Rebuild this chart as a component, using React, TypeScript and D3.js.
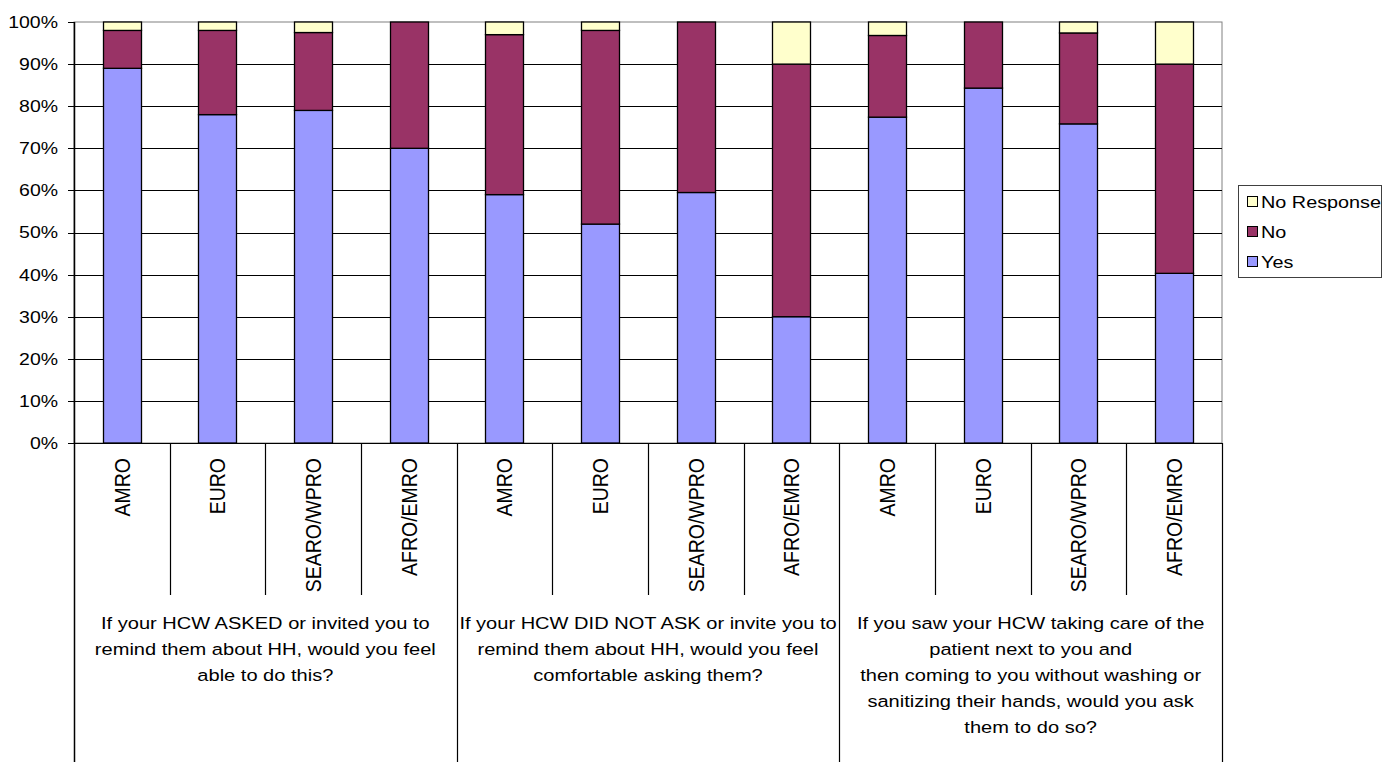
import * as d3 from "d3";
import { useEffect, useRef } from "react";

const regions = ["AMRO", "EURO", "SEARO/WPRO", "AFRO/EMRO"];
const questions = [
  ["If your HCW ASKED or invited you to", "remind them about HH, would you feel", "able to do this?"],
  ["If your HCW DID NOT ASK or invite you to", "remind them about HH, would you feel", "comfortable asking them?"],
  [
    "If you saw your HCW taking care of the",
    "patient next to you and",
    "then coming to you without washing or",
    "sanitizing their hands, would you ask",
    "them to do so?",
  ],
];
const yesValues = [89, 78, 79, 70, 59, 52, 59.5, 30, 77.4, 84.3, 75.8, 40.3];
const noValues = [9, 20, 18.5, 30, 38, 46, 40.5, 60, 19.4, 15.7, 21.6, 49.7];
const noResponseValues = [2, 2, 2.5, 0, 3, 2, 0, 10, 3.2, 0, 2.6, 10];
const seriesKeys = ["Yes", "No", "No Response"];
const seriesColors: Record<string, string> = { Yes: "#9999FF", No: "#993366", "No Response": "#FFFFCC" };
const yTicks = [0, 10, 20, 30, 40, 50, 60, 70, 80, 90, 100];

const FONT = "'Liberation Sans', Arial, sans-serif";
const SX = 1.18; // the source picture is stretched horizontally

export default function App() {
  const svgRef = useRef<SVGSVGElement>(null);

  useEffect(() => {
    if (!svgRef.current) return;
    const svg = d3.select(svgRef.current);
    svg.selectAll("*").remove();

    const left = 74;
    const right = 1222;
    const top = 22;
    const bottom = 443;
    const catLineBottom = 595;
    const fullBottom = 762;

    const rows = yesValues.map((y, i) => ({
      idx: i,
      Yes: y,
      No: noValues[i],
      "No Response": noResponseValues[i],
    }));

    const x = d3
      .scaleBand<number>()
      .domain(rows.map((d) => d.idx))
      .range([left, right])
      .paddingInner(0.6)
      .paddingOuter(0.3);
    const step = x.step();

    const y = d3.scaleLinear().domain([0, 100]).range([bottom, top]);

    // plot border (grey) and gridlines (black)
    svg
      .append("rect")
      .attr("x", left)
      .attr("y", top)
      .attr("width", right - left)
      .attr("height", bottom - top)
      .attr("fill", "white")
      .attr("stroke", "#808080")
      .attr("stroke-width", 1);

    svg
      .selectAll(".grid")
      .data(yTicks.filter((t) => t > 0 && t < 100))
      .enter()
      .append("line")
      .attr("x1", left)
      .attr("x2", right)
      .attr("y1", (d) => Math.round(y(d)) + 0.5)
      .attr("y2", (d) => Math.round(y(d)) + 0.5)
      .attr("stroke", "#000")
      .attr("stroke-width", 1);

    // ticks and labels
    svg
      .selectAll(".tick")
      .data(yTicks)
      .enter()
      .append("line")
      .attr("x1", left - 6)
      .attr("x2", left)
      .attr("y1", (d) => Math.round(y(d)) + 0.5)
      .attr("y2", (d) => Math.round(y(d)) + 0.5)
      .attr("stroke", "#000");

    svg
      .selectAll(".ytext")
      .data(yTicks)
      .enter()
      .append("text")
      .attr("transform", (d) => `translate(58,${y(d)}) scale(${SX},1)`)
      .attr("dy", "0.36em")
      .attr("text-anchor", "end")
      .style("font-family", FONT)
      .style("font-size", "16.5px")
      .style("fill", "#000")
      .text((d) => `${d}%`);

    // stacked bars
    const stacked = d3.stack<any>().keys(seriesKeys)(rows);
    stacked.forEach((layer) => {
      svg
        .append("g")
        .selectAll("rect")
        .data(layer.filter((d) => d[1] - d[0] > 0))
        .enter()
        .append("rect")
        .attr("x", (d) => Math.round(x(d.data.idx)!) + 0.5)
        .attr("y", (d) => y(d[1]))
        .attr("width", Math.round(x.bandwidth()))
        .attr("height", (d) => y(d[0]) - y(d[1]))
        .attr("fill", seriesColors[layer.key])
        .attr("stroke", "#000")
        .attr("stroke-width", 1.3);
    });

    // left axis line (down to the bottom of the category area)
    svg
      .append("line")
      .attr("x1", left + 0.5)
      .attr("x2", left + 0.5)
      .attr("y1", top)
      .attr("y2", fullBottom)
      .attr("stroke", "#000")
      .attr("stroke-width", 1.5);

    // category dividers
    const dividers = d3.range(1, rows.length + 1).map((i) => ({
      xPos: left + i * step,
      isGroup: i % regions.length === 0,
    }));
    svg
      .selectAll(".divider")
      .data(dividers)
      .enter()
      .append("line")
      .attr("x1", (d) => Math.round(d.xPos) + 0.5)
      .attr("x2", (d) => Math.round(d.xPos) + 0.5)
      .attr("y1", bottom)
      .attr("y2", (d) => (d.isGroup ? fullBottom : catLineBottom))
      .attr("stroke", "#000")
      .attr("stroke-width", 1.2);

    // x axis line
    svg
      .append("line")
      .attr("x1", left)
      .attr("x2", right)
      .attr("y1", bottom + 0.5)
      .attr("y2", bottom + 0.5)
      .attr("stroke", "#000")
      .attr("stroke-width", 1.2);

    // rotated region labels
    svg
      .selectAll(".cat")
      .data(rows)
      .enter()
      .append("text")
      .attr(
        "transform",
        (d) => `translate(${x(d.idx)! + x.bandwidth() / 2},458) scale(1.1,1) rotate(-90)`
      )
      .attr("dy", "0.36em")
      .attr("text-anchor", "end")
      .style("font-family", FONT)
      .style("font-size", "19.5px")
      .style("fill", "#000")
      .text((d) => regions[d.idx % regions.length]);

    // question labels
    questions.forEach((lines, gi) => {
      const cx = left + (gi + 0.5) * step * regions.length;
      const g = svg.append("g");
      lines.forEach((line, li) => {
        g.append("text")
          .attr("transform", `translate(${cx},${623 + li * 26}) scale(${SX},1)`)
          .attr("dy", "0.36em")
          .attr("text-anchor", "middle")
          .style("font-family", FONT)
          .style("font-size", "17px")
          .style("fill", "#000")
          .text(line);
      });
    });

    // legend
    const legend = svg.append("g");
    legend
      .append("rect")
      .attr("x", 1238.5)
      .attr("y", 185.5)
      .attr("width", 143)
      .attr("height", 92)
      .attr("fill", "white")
      .attr("stroke", "#404040")
      .attr("stroke-width", 1);
    const legendOrder = [...seriesKeys].reverse();
    legendOrder.forEach((k, i) => {
      const cy = 202 + i * 30;
      legend
        .append("rect")
        .attr("x", 1247.5)
        .attr("y", cy - 5.5)
        .attr("width", 10)
        .attr("height", 10)
        .attr("fill", seriesColors[k])
        .attr("stroke", "#000")
        .attr("stroke-width", 1);
      legend
        .append("text")
        .attr("transform", `translate(1261,${cy}) scale(${SX},1)`)
        .attr("dy", "0.36em")
        .style("font-family", FONT)
        .style("font-size", "16.8px")
        .style("fill", "#000")
        .text(k);
    });
  }, []);

  return (
    <svg
      ref={svgRef}
      width={1383}
      height={762}
      style={{ position: "absolute", left: 0, top: 0, background: "white" }}
    />
  );
}
